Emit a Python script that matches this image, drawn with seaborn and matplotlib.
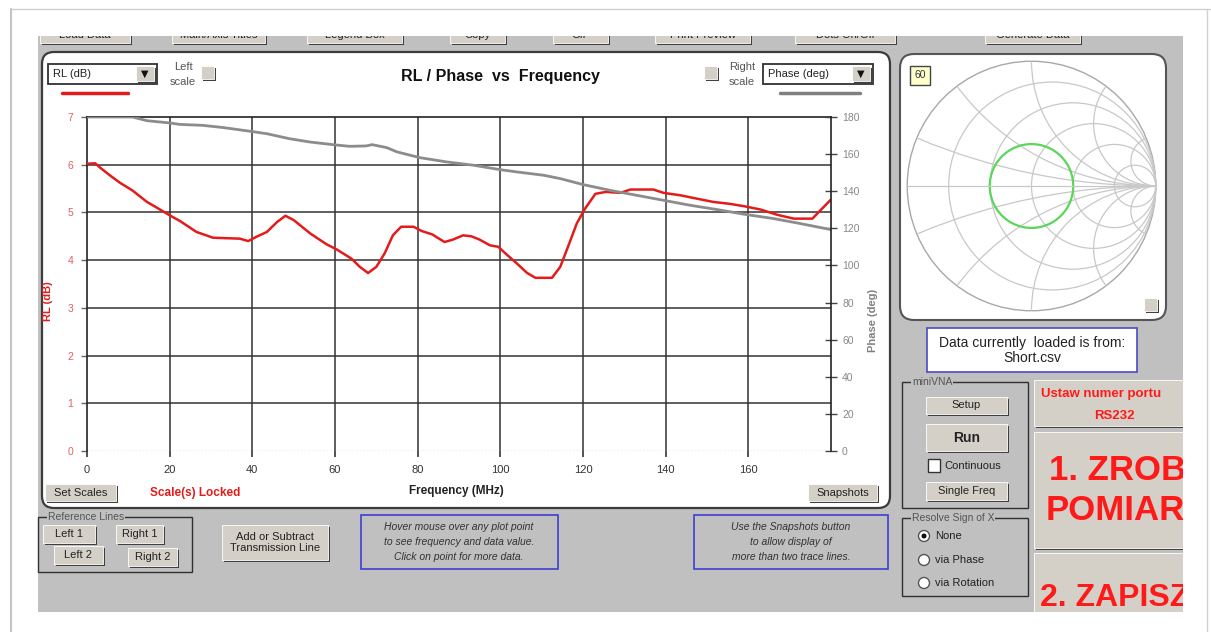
import matplotlib.pyplot as plt
import matplotlib.transforms as mtransforms
from matplotlib.patches import FancyBboxPatch, Circle
from matplotlib.lines import Line2D
import seaborn as sns

W, H = 1211, 632

# RL (dB) trace
freq_rl = [0, 2, 3, 5.5, 8, 11, 14.5, 16.5, 20, 22.5,
           26.5, 30.5, 37, 39, 41, 43.5, 46, 48, 50, 54,
           58, 60.5, 64, 66, 68, 70, 72, 74, 76, 79,
           81, 83.5, 86.5, 88.5, 91, 93, 95, 97.5, 99.5, 101.5,
           104, 106.5, 108.5, 112.5, 114.5, 116.5, 118.5, 120.5, 123, 125.5,
           129, 131.5, 137, 139.5, 143.5, 147.5, 151.5, 155.5, 159, 163,
           167, 171, 175.5, 177.5, 180]
rl_db = [6.02, 6.03, 5.95, 5.78, 5.62, 5.46, 5.22, 5.12, 4.94, 4.82,
         4.59, 4.47, 4.45, 4.40, 4.49, 4.59, 4.80, 4.93, 4.84, 4.56,
         4.33, 4.22, 4.03, 3.86, 3.73, 3.86, 4.14, 4.52, 4.70, 4.70,
         4.61, 4.54, 4.38, 4.43, 4.52, 4.50, 4.43, 4.31, 4.28, 4.12,
         3.93, 3.73, 3.63, 3.63, 3.86, 4.31, 4.77, 5.08, 5.39, 5.43,
         5.41, 5.48, 5.48, 5.41, 5.36, 5.29, 5.22, 5.18, 5.13, 5.06,
         4.95, 4.87, 4.87, 5.05, 5.27]

# Phase (deg) trace
freq_phase = [0, 11, 14.5, 20, 22.5, 28, 33, 39.5, 43.5, 49,
              54, 59.5, 63.5, 67.5, 69, 72.5, 75, 80.5, 87, 93.5,
              100, 104, 110.5, 114.5, 120, 126.5, 133, 139.5, 146, 152.5,
              159, 166, 172.5, 180]
phase_deg = [180, 180, 178, 176.8, 176, 175.5, 174.3, 172.3, 171, 168.3,
             166.5, 165.1, 164.2, 164.4, 165.1, 163.5, 161.2, 158.1, 155.8, 154,
             151.6, 150.4, 148.6, 146.8, 143.6, 140.5, 137.8, 135.1, 132.4, 130.1,
             127.6, 125.3, 122.6, 119.3]

freq_ticks = [0, 20, 40, 60, 80, 100, 120, 140, 160]
rl_ticks = [0, 1, 2, 3, 4, 5, 6, 7]
phase_ticks = [0, 20, 40, 60, 80, 100, 120, 140, 160, 180]

# Smith chart
gamma_mag = 0.336
smith_r = [0.2, 0.5, 1, 2, 5]
smith_x = [0.2, 0.5, 1, 2, 5]

top_buttons = ["Load Data", "Main/Axis Titles", "Legend Box", "Copy", "GIF",
               "Print Preview", "Dots On/Off", "Generate Data"]

PANEL = "#c0c0c0"
FACE = "#d4d0c8"
RED = "#e31b1b"
PHASE_COL = "#8c8c8c"

sns.set_style("white")
plt.rcParams["font.family"] = ["Liberation Sans", "DejaVu Sans"]

fig = plt.figure(figsize=(W / 100, H / 100), dpi=100)
fig.patch.set_facecolor("white")
PX = mtransforms.IdentityTransform()


def rect(x0, y0, x1, y1, fc="none", ec="none", lw=1.0, z=1, r=0):
    style = f"round,pad=0,rounding_size={r}" if r else "square,pad=0"
    p = FancyBboxPatch((x0, H - y1), x1 - x0, y1 - y0, boxstyle=style,
                       fc=fc, ec=ec, lw=lw, transform=PX, zorder=z)
    fig.add_artist(p)


def txt(x, y, s, size=8, color="#222", ha="center", z=5, **kw):
    return fig.text(x, H - y, s, transform=PX, fontsize=size, color=color,
                    ha=ha, va="center", zorder=z, **kw)


def button(x0, y0, x1, y1, label="", size=8, color="#222", weight="normal", z=3):
    rect(x0 + 1.5, y0 + 1.5, x1 + 1.5, y1 + 1.5, fc="#404040", z=z)
    rect(x0, y0, x1, y1, fc=FACE, ec="#ffffff", lw=0.6, z=z)
    if label:
        txt((x0 + x1) / 2, (y0 + y1) / 2, label, size, color, weight=weight, z=z + 1)


def line(xs, ys, color, lw=1.0, z=2):
    fig.add_artist(Line2D(xs, [H - y for y in ys], color=color, lw=lw,
                          transform=PX, zorder=z))


def group(x0, y0, x1, y1, label):
    rect(x0, y0, x1, y1, ec="#303030", lw=1.0, z=2)
    txt(x0 + 10, y0, label, size=7.5, color="#555", ha="left",
        bbox=dict(fc=PANEL, ec="none", pad=0.5))


def combo(x0, y0, x1, y1, label):
    rect(x0, y0, x1, y1, fc="white", ec="#303030", lw=1.3, z=3)
    button(x1 - 21, y0 + 2, x1 - 3, y1 - 3)
    txt(x1 - 12, (y0 + y1) / 2, "\u25bc", size=7, color="#111", family="DejaVu Sans")
    txt(x0 + 5, (y0 + y1) / 2, label, size=8, ha="left")


# background panel and top button row
rect(38, 36, 1183, 612, fc=PANEL, z=0.5)
top_x = [(40, 130), (172, 265), (307, 402), (450, 505), (553, 608),
         (655, 750), (795, 895), (985, 1080)]
for (x0, x1), name in zip(top_x, top_buttons):
    button(x0, 28, x1, 43, name, size=8)

# chart panel
rect(42, 52, 890, 508, fc="white", ec="#3c3c3c", lw=1.6, r=12, z=2)
combo(48, 64, 157, 84, "RL (dB)")
combo(763, 64, 873, 84, "Phase (deg)")
line([62, 128], [93, 93], RED, lw=2.5, z=4)
line([780, 860], [93, 93], "#808080", lw=2.5, z=4)
button(201, 66, 214, 79)
button(704, 66, 717, 79)
txt(183, 67, "Left", size=8, color="#555")
txt(183, 82, "scale", size=8, color="#555")
txt(742, 67, "Right", size=8, color="#555")
txt(742, 82, "scale", size=8, color="#555")
txt(500, 76, "RL / Phase  vs  Frequency", size=11.5, color="#111", weight="bold")
button(45, 484, 116, 501, "Set Scales")
txt(150, 493, "Scale(s) Locked", size=8.5, color=RED, ha="left", weight="bold")
button(808, 484, 877, 501, "Snapshots")

# main plot
ax = fig.add_axes([87 / W, 1 - 451 / H, 744 / W, 334 / H])
ax.set_zorder(10)
ax.patch.set_alpha(0)
for f in freq_ticks[1:]:
    ax.axvline(f, color="#333", lw=1.1, zorder=1)
for v in rl_ticks[1:-1]:
    ax.axhline(v, color="#333", lw=1.1, zorder=1)
ax.axhline(0, color="#aaa", lw=1, ls=":", zorder=1)
sns.lineplot(x=freq_rl, y=rl_db, ax=ax, color=RED, lw=1.8, estimator=None, sort=False, zorder=3)
ax.set_xlim(0, 180)
ax.set_ylim(0, 7)
ax.set_xticks(freq_ticks)
ax.set_yticks(rl_ticks)
ax.spines["bottom"].set_visible(False)
ax.spines["right"].set_visible(False)
for s in ["left", "top"]:
    ax.spines[s].set_color("#222")
    ax.spines[s].set_linewidth(1.2)
ax.tick_params(axis="x", direction="out", length=4, width=1.2, color="#333",
               labelsize=8, labelcolor="#333", pad=6, bottom=True)
ax.tick_params(axis="y", direction="out", length=4, width=1, color="#666",
               labelsize=7.5, labelcolor="#e06060", pad=6, left=True)
ax.set_xlabel("Frequency (MHz)", fontsize=8.5, fontweight="bold", color="#222", va="center")
ax.xaxis.set_label_coords(0.497, -0.12)
ax.set_ylabel("RL (dB)", fontsize=8, fontweight="bold", color=RED, va="center")
ax.yaxis.set_label_coords(-0.052, 0.45)

ax2 = ax.twinx()
ax2.set_zorder(11)
sns.lineplot(x=freq_phase, y=phase_deg, ax=ax2, color=PHASE_COL, lw=2, estimator=None, sort=False)
ax2.set_ylim(0, 180)
ax2.set_yticks(phase_ticks)
for s in ["left", "top", "bottom"]:
    ax2.spines[s].set_visible(False)
ax2.spines["right"].set_color("#222")
ax2.spines["right"].set_linewidth(1.2)
ax2.tick_params(axis="y", direction="inout", length=8, width=1, color="#444",
                labelsize=7.5, labelcolor="#888", pad=4, right=True)
ax2.set_ylabel("Phase (deg)", fontsize=8, fontweight="bold", color="#808080", va="center")
ax2.yaxis.set_label_coords(1.056, 0.39)

# reference lines, notes
group(38, 517, 192, 572, "Reference Lines")
button(43, 525, 95, 543, "Left 1")
button(116, 525, 163, 543, "Right 1")
button(54, 546, 103, 564, "Left 2")
button(128, 548, 177, 566, "Right 2")
button(222, 525, 328, 560, "Add or Subtract\nTransmission Line", size=8)
rect(361, 515, 558, 569, ec="#3f3fd0", lw=1.2, z=2)
for y, s in zip([527, 542, 557], ["Hover mouse over any plot point",
                                  "to see frequency and data value.",
                                  "Click on point for more data."]):
    txt(459, y, s, size=7.5, color="#333", style="italic")
rect(694, 515, 888, 569, ec="#3f3fd0", lw=1.2, z=2)
for y, s in zip([527, 542, 557], ["Use the Snapshots button",
                                  "to allow display of",
                                  "more than two trace lines."]):
    txt(791, y, s, size=7.5, color="#333", style="italic")

# smith chart panel
rect(900, 54, 1166, 320, fc="white", ec="#555", lw=1.5, r=14, z=2)
rect(910, 66, 930, 85, fc="#ffffcc", ec="#444", lw=1, z=12)
txt(920, 75.5, "60", size=7.5, color="#333", z=13)
button(1144, 298, 1157, 311, z=12)

ax_s = fig.add_axes([906 / W, 1 - 312 / H, 251 / W, 252 / H])
ax_s.set_zorder(10)
ax_s.patch.set_alpha(0)
ax_s.set_xlim(-1.01, 1.01)
ax_s.set_ylim(-1.01, 1.01)
ax_s.axis("off")
grid_kw = dict(fc="none", ec="#c8c8c8", lw=0.9)
unit = Circle((0, 0), 1, fc="none", ec="#a8a8a8", lw=1)
ax_s.add_patch(unit)
for r in smith_r:
    ax_s.add_patch(Circle((r / (1 + r), 0), 1 / (1 + r), **grid_kw))
for x in smith_x:
    for sign in (1, -1):
        c = Circle((1, sign / x), 1 / x, **grid_kw)
        ax_s.add_patch(c)
        c.set_clip_path(unit)
ax_s.plot([-1, 1], [0, 0], color="#c8c8c8", lw=0.9)
ax_s.add_patch(Circle((0, 0), gamma_mag, fc="none", ec="#5ad65a", lw=1.6))

rect(927, 328, 1137, 372, fc="white", ec="#4a4ac8", lw=1.2, z=2)
txt(1032, 343, "Data currently  loaded is from:", size=10, color="#222")
txt(1032, 358, "Short.csv", size=10, color="#222")

# miniVNA controls
group(902, 382, 1028, 508, "miniVNA")
button(926, 397, 1007, 414, "Setup")
button(926, 424, 1007, 451, "Run", size=10, weight="bold")
rect(928, 459, 940, 472, fc="white", ec="#333", lw=1, z=3)
txt(944, 466, "Continuous", size=8, ha="left")
button(926, 482, 1007, 500, "Single Freq")

group(902, 518, 1028, 596, "Resolve Sign of X")
for y, s, sel in [(536, "None", True), (560, "via Phase", False), (583, "via Rotation", False)]:
    fig.add_artist(Circle((924, H - y), 5.5, fc="white", ec="#555", lw=1, transform=PX, zorder=3))
    if sel:
        fig.add_artist(Circle((924, H - y), 2.5, fc="#111", ec="none", transform=PX, zorder=4))
    txt(935, y, s, size=8, ha="left")

# red action buttons (cut off at the right edge)
button(1034, 380, 1195, 426)
txt(1041, 394, "Ustaw numer portu", size=9.5, color="#ff1a1a", ha="left", weight="bold")
txt(1114, 416, "RS232", size=9.5, color="#ff1a1a", weight="bold")
button(1034, 432, 1195, 548)
txt(1049, 470, "1. ZROB", size=25, color="#ff1a1a", ha="left", weight="bold")
txt(1046, 511, "POMIAR", size=25, color="#ff1a1a", ha="left", weight="bold")
button(1034, 553, 1195, 640)
txt(1040, 598, "2. ZAPISZ", size=23, color="#ff1a1a", ha="left", weight="bold")

# white margins cut the panel like the screenshot window
rect(12, 10, 1206, 36, fc="white", z=20)
rect(1183, 10, 1206, 632, fc="white", z=20)
rect(12, 612, 1206, 632, fc="white", z=20)
line([11, 1211], [9, 9], "#d0d0d0", z=21)
line([11, 11], [9, 632], "#c4c4c4", lw=1.5, z=21)
line([1207, 1207], [9, 632], "#d0d0d0", z=21)

fig.savefig("out.png", dpi=100)
